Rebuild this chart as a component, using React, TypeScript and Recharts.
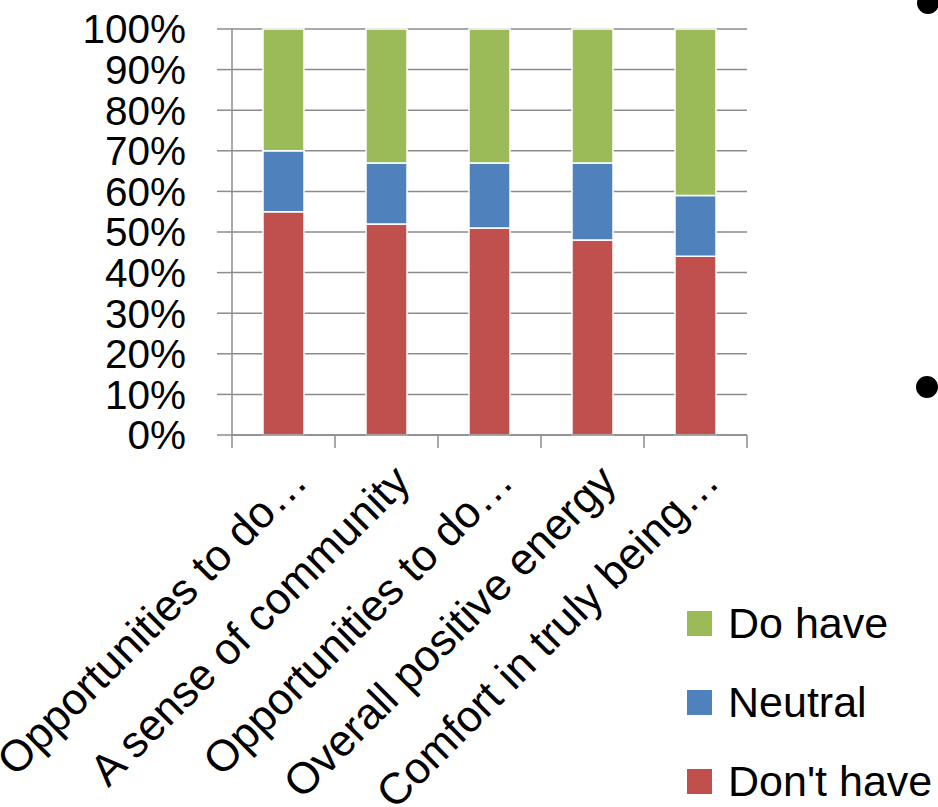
import React from "react";
import { BarChart, Bar, XAxis, YAxis, CartesianGrid, Legend } from "recharts";

const categories = [
  "Opportunities to do\u2026",
  "A sense of community",
  "Opportunities to do\u2026",
  "Overall positive energy",
  "Comfort in truly being\u2026",
];
const dontHave = [55, 52, 51, 48, 44];
const neutral = [15, 15, 16, 19, 15];
const doHave = [30, 33, 33, 33, 41];
const yTicks = [0, 10, 20, 30, 40, 50, 60, 70, 80, 90, 100];

const seriesNames = { doHave: "Do have", neutral: "Neutral", dontHave: "Don't have" };
const seriesColors = { doHave: "#9BBB59", neutral: "#4F81BD", dontHave: "#C0504D" };
const legendOrder: (keyof typeof seriesNames)[] = ["doHave", "neutral", "dontHave"];

const data = categories.map((c, i) => ({
  name: c,
  dontHave: dontHave[i],
  neutral: neutral[i],
  doHave: doHave[i],
}));

const W = 938;
const H = 807;
const M = { top: 29, right: 191, bottom: 0, left: 0 };
const Y_AXIS_W = 232;
const X_AXIS_H = H - 435;
const HALF_BAND = (W - M.right - Y_AXIS_W) / categories.length / 2;
const FONT = "'Liberation Sans', Arial, sans-serif";
const GRID = "#8c8c8c";

const XTick = (props: any) => {
  const { x, y, payload, index } = props;
  const ax = x + 26;
  const ay = y + 49;
  return (
    <g>
      <line x1={x - HALF_BAND} y1={y} x2={x - HALF_BAND} y2={y + 13} stroke={GRID} strokeWidth={1.5} />
      {index === categories.length - 1 && (
        <line x1={x + HALF_BAND} y1={y} x2={x + HALF_BAND} y2={y + 13} stroke={GRID} strokeWidth={1.5} />
      )}
      <text
        x={ax}
        y={ay}
        textAnchor="end"
        transform={`rotate(-45, ${ax}, ${ay})`}
        fontFamily={FONT}
        fontSize={44}
        fill="#000"
      >
        {payload.value}
      </text>
    </g>
  );
};

const LegendContent = () => (
  <div style={{ fontFamily: FONT, fontSize: 43, color: "#000" }}>
    {legendOrder.map((k) => (
      <div key={k} style={{ display: "flex", alignItems: "center", height: 79 }}>
        <div style={{ width: 25, height: 25, background: seriesColors[k], marginRight: 16 }} />
        <span style={{ lineHeight: "43px" }}>{seriesNames[k]}</span>
      </div>
    ))}
  </div>
);

const Bullet = ({ cx, cy }: { cx: number; cy: number }) => (
  <div
    style={{
      position: "absolute",
      left: cx - 11,
      top: cy - 11,
      width: 22,
      height: 22,
      borderRadius: 11,
      background: "#000",
    }}
  />
);

export default function App() {
  return (
    <div style={{ position: "absolute", left: 0, top: 0, width: W, height: H, overflow: "hidden", background: "#fff" }}>
      <BarChart width={W} height={H} data={data} margin={M} barSize={41}>
        <CartesianGrid vertical={false} stroke={GRID} strokeWidth={1.5} />
        <XAxis
          dataKey="name"
          interval={0}
          height={X_AXIS_H}
          tickLine={false}
          tickSize={0}
          tickMargin={0}
          axisLine={{ stroke: GRID, strokeWidth: 1.5 }}
          tick={<XTick />}
        />
        <YAxis
          width={Y_AXIS_W}
          domain={[0, 100]}
          ticks={yTicks}
          interval={0}
          tickFormatter={(v: number) => `${v}%`}
          tickSize={15}
          tickMargin={31}
          tickLine={{ stroke: GRID, strokeWidth: 1.5 }}
          axisLine={{ stroke: GRID, strokeWidth: 1.5 }}
          tick={{ fill: "#000", fontSize: 40.5, fontFamily: FONT }}
        />
        <Legend
          layout="vertical"
          align="center"
          verticalAlign="middle"
          wrapperStyle={{ position: "absolute", left: 687, top: 584, width: 260 }}
          content={<LegendContent />}
        />
        <Bar dataKey="dontHave" name={seriesNames.dontHave} stackId="a" fill={seriesColors.dontHave} stroke="#fff" strokeWidth={1.5} isAnimationActive={false} />
        <Bar dataKey="neutral" name={seriesNames.neutral} stackId="a" fill={seriesColors.neutral} stroke="#fff" strokeWidth={1.5} isAnimationActive={false} />
        <Bar dataKey="doHave" name={seriesNames.doHave} stackId="a" fill={seriesColors.doHave} stroke="#fff" strokeWidth={1.5} isAnimationActive={false} />
      </BarChart>
      <Bullet cx={928} cy={3} />
      <Bullet cx={927} cy={387} />
    </div>
  );
}
